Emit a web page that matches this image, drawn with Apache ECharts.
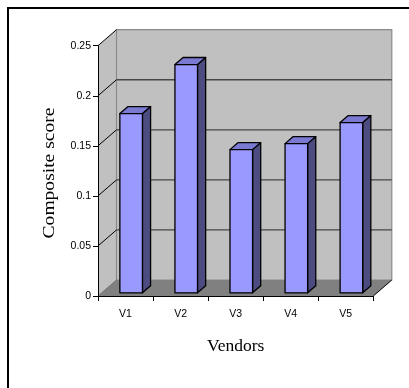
<!DOCTYPE html>
<html>
<head>
<meta charset="utf-8">
<script src="https://cdn.jsdelivr.net/npm/echarts@6/dist/echarts.min.js"></script>
<style>
  html, body { margin: 0; padding: 0; background: #ffffff; }
  #chart { width: 409px; height: 388px; }
</style>
</head>
<body>
<div id="chart"></div>
<script>
// Composite score per vendor
const vendors = ['V1', 'V2', 'V3', 'V4', 'V5'];
const scores = [0.179, 0.228, 0.143, 0.149, 0.170];
const scoreTicks = [0, 0.05, 0.1, 0.15, 0.2, 0.25];
const valueTitle = 'Composite score';
const categoryTitle = 'Vendors';

// Oblique projection of the box depth (pixels), and where the columns sit in it
const DEPTH_X = 18.5;
const DEPTH_Y = -16;
const BAR_FRONT = 0.2;   // fraction of depth in front of the columns
const BAR_DEPTH = 0.44;  // fraction of depth taken by a column
const BAR_WIDTH = 0.41;  // fraction of the category band

const chart = echarts.init(document.getElementById('chart'), null, { renderer: 'canvas' });

// Side wall, back wall, floor and their gridlines
function renderWalls(params, api) {
  const cs = params.coordSys;
  const x0 = cs.x;
  const x1 = cs.x + cs.width;
  const dx = DEPTH_X, dy = DEPTH_Y;
  const yb = api.coord([0, scoreTicks[0]])[1];
  const yt = api.coord([0, scoreTicks[scoreTicks.length - 1]])[1];
  const children = [];

  children.push({
    type: 'polygon',
    shape: { points: [[x0, yt], [x0 + dx, yt + dy], [x0 + dx, yb + dy], [x0, yb]] },
    style: { fill: '#c0c0c0' }
  });
  children.push({
    type: 'polygon',
    shape: { points: [[x0 + dx, yt + dy], [x1 + dx, yt + dy], [x1 + dx, yb + dy], [x0 + dx, yb + dy]] },
    style: { fill: '#c0c0c0', stroke: '#8a8a8a', lineWidth: 1.2 }
  });
  children.push({
    type: 'polygon',
    shape: { points: [[x0, yb], [x0 + dx, yb + dy], [x1 + dx, yb + dy], [x1, yb]] },
    style: { fill: '#808080' }
  });

  // horizontal gridlines on the back wall
  scoreTicks.slice(1, -1).forEach(function (t) {
    const y = api.coord([0, t])[1];
    children.push({
      type: 'line',
      shape: { x1: x0 + dx, y1: y + dy, x2: x1 + dx, y2: y + dy },
      style: { stroke: '#474747', lineWidth: 1.3 }
    });
  });
  // diagonal tick lines across the side wall
  scoreTicks.slice(1).forEach(function (t) {
    const y = api.coord([0, t])[1];
    children.push({
      type: 'line',
      shape: { x1: x0, y1: y, x2: x0 + dx, y2: y + dy },
      style: { stroke: '#000000', lineWidth: 1 }
    });
  });
  // floor edges
  children.push({
    type: 'line',
    shape: { x1: x0, y1: yb, x2: x0 + dx, y2: yb + dy },
    style: { stroke: '#707070', lineWidth: 1 }
  });
  children.push({
    type: 'line',
    shape: { x1: x1, y1: yb, x2: x1 + dx, y2: yb + dy },
    style: { stroke: '#000000', lineWidth: 1 }
  });

  return { type: 'group', children: children };
}

// One 3D column: front face, right side face and top face
function renderColumn(params, api) {
  const i = api.value(0);
  const v = api.value(1);
  const band = api.size([1, 0])[0];
  const base = api.coord([i, 0]);
  const top = api.coord([i, v]);
  const fx = BAR_FRONT * DEPTH_X, fy = BAR_FRONT * DEPTH_Y;
  const bx = BAR_DEPTH * DEPTH_X, by = BAR_DEPTH * DEPTH_Y;
  const w = band * BAR_WIDTH;
  const cx = base[0] + fx + band * 0.035;
  const l = cx - w / 2, r = cx + w / 2;
  const yB = base[1] + fy, yT = top[1] + fy;
  const edge = { stroke: '#000000', lineWidth: 1.3, lineJoin: 'round' };

  return {
    type: 'group',
    children: [
      {
        type: 'polygon',
        shape: { points: [[r, yT], [r + bx, yT + by], [r + bx, yB + by], [r, yB]] },
        style: Object.assign({ fill: '#4c4c80' }, edge)
      },
      {
        type: 'polygon',
        shape: { points: [[l, yT], [r, yT], [r + bx, yT + by], [l + bx, yT + by]] },
        style: Object.assign({ fill: '#7a7ad2' }, edge)
      },
      {
        type: 'rect',
        shape: { x: l, y: yT, width: w, height: yB - yT },
        style: Object.assign({ fill: '#9999ff' }, edge)
      }
    ]
  };
}

const option = {
  backgroundColor: '#ffffff',
  animation: false,
  graphic: [
    {
      type: 'rect',
      shape: { x: 8, y: 8, width: 420, height: 400 },
      style: { fill: null, stroke: '#000000', lineWidth: 2 },
      silent: true
    },
    {
      // value-axis title, drawn vertically and slightly elongated
      type: 'text',
      x: 49.5,
      y: 173,
      rotation: Math.PI / 2,
      scaleX: 1.15,
      style: {
        text: valueTitle,
        font: '17px "Liberation Serif"',
        fill: '#000000',
        align: 'center',
        verticalAlign: 'middle'
      },
      silent: true
    }
  ],
  grid: { left: 98, top: 45.7, width: 275.3, height: 250.3, containLabel: false },
  xAxis: {
    type: 'category',
    data: vendors,
    z: 10,
    boundaryGap: true,
    axisLine: { show: true, lineStyle: { color: '#000000', width: 1 } },
    axisTick: { show: true, length: 5, lineStyle: { color: '#000000', width: 1 } },
    axisLabel: { margin: 12.5, fontFamily: 'Liberation Sans', fontSize: 10.5, color: '#000000' },
    splitLine: { show: false },
    name: categoryTitle,
    nameLocation: 'middle',
    nameGap: 41,
    nameTextStyle: { fontFamily: 'Liberation Serif', fontSize: 17.5, color: '#000000' }
  },
  yAxis: {
    type: 'value',
    min: 0,
    max: 0.25,
    interval: 0.05,
    z: 10,
    axisLine: { show: true, lineStyle: { color: '#000000', width: 1 } },
    axisTick: { show: true, length: 5, lineStyle: { color: '#000000', width: 1 } },
    axisLabel: { margin: 7, fontFamily: 'Liberation Sans', fontSize: 10.5, color: '#000000' },
    splitLine: { show: false }
  },
  series: [
    {
      type: 'custom',
      name: 'walls',
      z: 1,
      silent: true,
      renderItem: renderWalls,
      data: [[0, 0]]
    },
    {
      type: 'custom',
      name: valueTitle,
      z: 3,
      renderItem: renderColumn,
      encode: { x: 0, y: 1 },
      data: scores.map(function (s, i) { return [i, s]; })
    }
  ]
};

chart.setOption(option);
</script>
</body>
</html>
